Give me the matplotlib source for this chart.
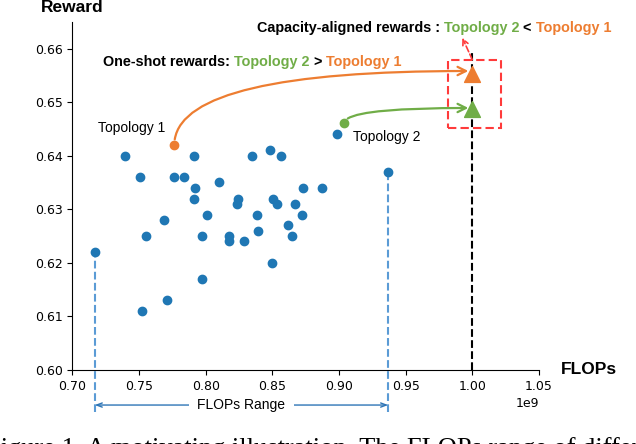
import numpy as np
import matplotlib.pyplot as plt
from matplotlib.patches import Rectangle

# sampled sub-networks (FLOPs in 1e9, one-shot reward)
flops = np.array([0.7395, 0.7913, 0.7508, 0.7765, 0.7840, 0.7923, 0.8103, 0.7910,
                  0.8008, 0.7688, 0.7553, 0.7970, 0.8175, 0.8175, 0.8286, 0.8350,
                  0.8483, 0.8568, 0.8240, 0.8233, 0.8383, 0.8390, 0.8498, 0.7975,
                  0.7713, 0.7523, 0.7168, 0.8503, 0.8533, 0.8673, 0.8616, 0.8648,
                  0.8725, 0.8733, 0.8873, 0.9369, 0.8983]) * 1e9
reward = np.array([0.640, 0.640, 0.636, 0.636, 0.636, 0.634, 0.635, 0.632,
                   0.629, 0.628, 0.625, 0.625, 0.625, 0.624, 0.624, 0.640,
                   0.641, 0.640, 0.632, 0.631, 0.629, 0.626, 0.620, 0.617,
                   0.613, 0.611, 0.622, 0.632, 0.631, 0.631, 0.627, 0.625,
                   0.629, 0.634, 0.634, 0.637, 0.644])

topo_names = ["Topology 1", "Topology 2"]
topo_flops = np.array([0.7765, 0.9041]) * 1e9
topo_oneshot = [0.642, 0.6461]
topo_aligned = [0.6553, 0.6487]
target_flops = 1.0e9

ORANGE = "#ED7D31"
GREEN = "#70AD47"
BLUE = "#1f77b4"
LBLUE = "#5B9BD5"
RED = "#FF3B3B"
SANS = ["Liberation Sans", "DejaVu Sans"]

fig = plt.figure(figsize=(6.36, 4.44), dpi=100)
ax = fig.add_axes([0.1137, 0.1667, 0.7338, 0.7844])

ax.scatter(flops, reward, s=36, color=BLUE, zorder=3)
ax.scatter(topo_flops[0], topo_oneshot[0], s=36, color=ORANGE, zorder=4)
ax.scatter(topo_flops[1], topo_oneshot[1], s=36, color=GREEN, zorder=4)
ax.scatter([target_flops], [topo_aligned[0]], marker="^", s=130, color=ORANGE, zorder=4)
ax.scatter([target_flops], [topo_aligned[1]], marker="^", s=130, color=GREEN, zorder=4)

ax.set_xlim(0.70e9, 1.05e9)
ax.set_ylim(0.60, 0.665)
ax.set_xticks(np.arange(0.70, 1.051, 0.05) * 1e9)
ax.set_yticks(np.arange(0.60, 0.661, 0.01))
ax.yaxis.set_major_formatter(plt.FormatStrFormatter("%.2f"))
ax.tick_params(labelsize=9)
ax.xaxis.get_offset_text().set_fontsize(9)
ax.spines["top"].set_visible(False)
ax.spines["right"].set_visible(False)

# target FLOPs line
ax.plot([target_flops, target_flops], [0.60, 0.6598], "k--", lw=1.5, zorder=2)

# FLOPs range
fmin, fmax = flops.min(), flops.max()
ymin_pt = reward[flops.argmin()]
ymax_pt = reward[flops.argmax()]
ax.plot([fmin, fmin], [0.5921, ymin_pt], "--", color=LBLUE, lw=1.5, clip_on=False, zorder=2)
ax.plot([fmax, fmax], [0.5921, ymax_pt], "--", color=LBLUE, lw=1.5, clip_on=False, zorder=2)
yr = 0.60 - 35 / 5350
ax.annotate("", xy=(fmin, yr), xytext=(fmax, yr), annotation_clip=False,
            arrowprops=dict(arrowstyle="<->,head_length=0.4,head_width=0.15",
                            color="#2E75B6", lw=1, shrinkA=0, shrinkB=0))
ax.text((fmin + fmax) / 2, yr, "FLOPs Range", ha="center", va="center", fontsize=10,
        family=SANS, clip_on=False,
        bbox=dict(boxstyle="square,pad=0.6", fc="white", ec="none"))

# arrows one-shot -> aligned
ax.annotate("", xy=(0.997e9, 0.6558), xytext=(topo_flops[0], topo_oneshot[0]),
            arrowprops=dict(arrowstyle="->,head_length=0.6,head_width=0.3", color=ORANGE,
                            lw=1.6, shrinkA=4, shrinkB=0,
                            connectionstyle="angle3,angleA=90,angleB=0"))
ax.annotate("", xy=(0.997e9, 0.6489), xytext=(topo_flops[1], topo_oneshot[1]),
            arrowprops=dict(arrowstyle="->,head_length=0.6,head_width=0.3", color=GREEN,
                            lw=1.6, shrinkA=4, shrinkB=0,
                            connectionstyle="angle3,angleA=90,angleB=0"))

ax.text(0.7193e9, 0.6452, topo_names[0], fontsize=10, family=SANS, va="center")
ax.text(0.9105e9, 0.6434, topo_names[1], fontsize=10, family=SANS, va="center")

# red box
ax.add_patch(Rectangle((0.9816e9, 0.6452), 0.0399e9, 0.0126, fill=False, ec=RED,
                       lw=1.5, ls=(0, (4, 2)), zorder=5))
ax.annotate("", xy=(0.9925e9, 0.6620), xytext=(1.0e9, 0.6579),
            arrowprops=dict(arrowstyle="->,head_length=0.4,head_width=0.2", color=RED,
                            lw=1.2, ls="--", shrinkA=0, shrinkB=0))

# multi-colour headline texts
def colored_line(x, y, parts, size=10.4):
    t = ax.text(x, y, parts[0][0], color=parts[0][1], fontsize=size, fontweight="bold",
                family=SANS, va="center")
    for s, c in parts[1:]:
        t = ax.annotate(s, xy=(1, 0), xycoords=t, va="bottom", ha="left", color=c,
                        fontsize=size, fontweight="bold", family=SANS)
    return t

colored_line(0.7231e9, 0.6574, [("One-shot rewards: ", "black"), ("Topology 2", GREEN),
                                 (" > ", "black"), ("Topology 1", ORANGE)])
colored_line(0.8383e9, 0.6639, [("Capacity-aligned rewards : ", "black"), ("Topology 2", GREEN),
                                 (" < ", "black"), ("Topology 1", ORANGE)])

ax.text(0, 1.042, "Reward", transform=ax.transAxes, ha="center", va="center",
        fontsize=12.5, fontweight="bold", family=SANS)
ax.text(1.047, 0, "FLOPs", transform=ax.transAxes, ha="left", va="center",
        fontsize=12.5, fontweight="bold", family=SANS)

# cropped caption line from the paper
fig.text(-13.5 / 636, -0.0259,
         "Figure 1. A motivating illustration. The FLOPs range of different sub-networks",
         fontsize=19, family=["Liberation Serif", "DejaVu Serif"], va="baseline")

plt.savefig("out.png")
plt.close()
